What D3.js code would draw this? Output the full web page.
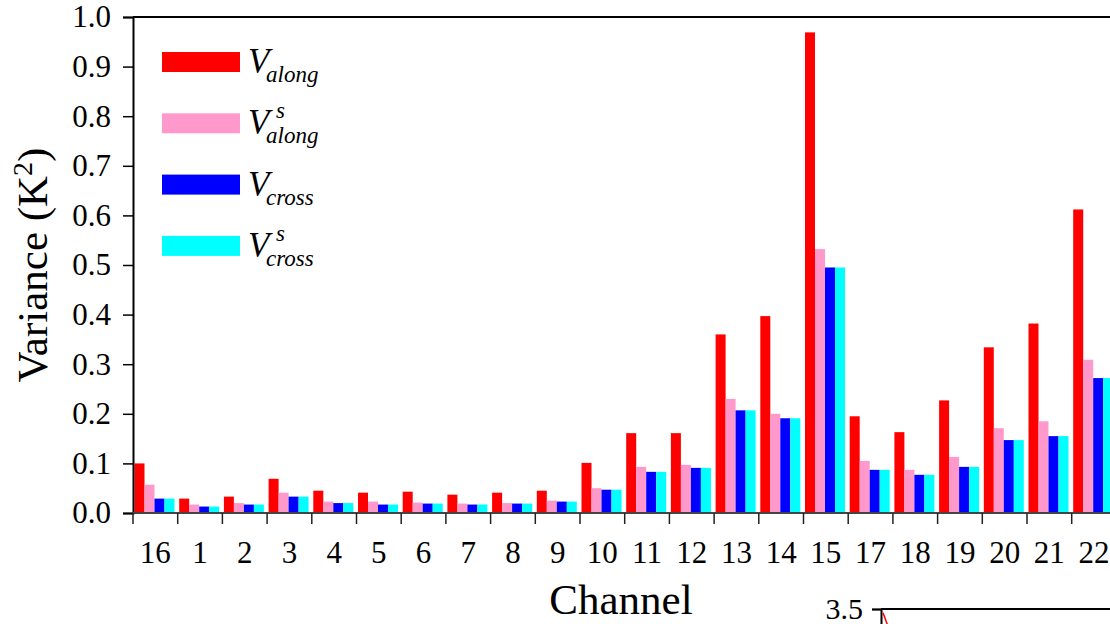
<!DOCTYPE html>
<html>
<head>
<meta charset="utf-8">
<script src="https://cdn.jsdelivr.net/npm/d3@7"></script>
<style>
  html, body { margin: 0; padding: 0; background: #fff; overflow: hidden; }
  svg { display: block; }
  svg text { font-family: "Liberation Serif", "Times New Roman", serif; }
</style>
</head>
<body>
<svg id="chart" width="1110" height="624"></svg>
<script>
// Channel order as plotted
const channels = ["16", "1", "2", "3", "4", "5", "6", "7", "8", "9", "10", "11", "12", "13", "14", "15", "17", "18", "19", "20", "21", "22"];

// Variance per channel (K^2)
const vAlong   = [0.100, 0.029, 0.033, 0.069, 0.045, 0.041, 0.043, 0.037, 0.041, 0.045, 0.101, 0.161, 0.161, 0.360, 0.397, 0.969, 0.195, 0.163, 0.227, 0.334, 0.382, 0.612];
const vAlongS  = [0.057, 0.017, 0.020, 0.041, 0.023, 0.023, 0.021, 0.019, 0.020, 0.025, 0.050, 0.093, 0.097, 0.230, 0.200, 0.532, 0.105, 0.087, 0.113, 0.171, 0.185, 0.309];
const vCross   = [0.029, 0.013, 0.017, 0.033, 0.020, 0.017, 0.019, 0.017, 0.019, 0.023, 0.047, 0.083, 0.091, 0.207, 0.191, 0.495, 0.087, 0.077, 0.093, 0.147, 0.155, 0.272];
const vCrossS  = [0.029, 0.013, 0.017, 0.033, 0.020, 0.017, 0.019, 0.017, 0.019, 0.023, 0.047, 0.083, 0.091, 0.207, 0.191, 0.495, 0.087, 0.077, 0.093, 0.147, 0.155, 0.272];

const seriesKeys   = ["along", "alongS", "cross", "crossS"];
const seriesColors = ["#ff0000", "#ff99cc", "#0000ff", "#00ffff"];
const seriesValues = [vAlong, vAlongS, vCross, vCrossS];

const yTicks = [0.0, 0.1, 0.2, 0.3, 0.4, 0.5, 0.6, 0.7, 0.8, 0.9, 1.0];

// Neighbouring panel peeking in at the lower right
const insetTicks = [3.5];
const insetCurve = [[0.0, 3.48], [0.1, 3.0]];

const svg = d3.select("#chart");
const serif = "Liberation Serif, Times New Roman, serif";

const plot = { left: 133, top: 17, bottom: 513, bandW: 44.7 };
const plotRight = plot.left + channels.length * plot.bandW;

const x = d3.scaleBand().domain(channels).range([plot.left, plotRight]).padding(0);
const xs = d3.scaleBand().domain(seriesKeys).range([1.5, 41.5]).padding(0);
const y = d3.scaleLinear().domain([0, 1]).range([plot.bottom, plot.top]);

// Bars
const rows = channels.map((c, i) => ({ c, vals: seriesKeys.map((k, j) => ({ k, v: seriesValues[j][i], color: seriesColors[j] })) }));

const groups = svg.append("g").selectAll("g")
  .data(rows).join("g")
  .attr("transform", d => `translate(${x(d.c)},0)`);

groups.selectAll("rect")
  .data(d => d.vals).join("rect")
  .attr("x", d => xs(d.k))
  .attr("width", xs.bandwidth())
  .attr("y", d => y(d.v))
  .attr("height", d => y(0) - y(d.v))
  .attr("fill", d => d.color);

// Y axis
const yAxis = svg.append("g")
  .attr("transform", `translate(${plot.left},0)`)
  .call(d3.axisLeft(y).tickValues(yTicks).tickFormat(d3.format(".1f")).tickSize(10).tickPadding(12))
  .attr("font-family", serif);
yAxis.select(".domain").attr("stroke", "#000").attr("stroke-width", 2);
yAxis.selectAll(".tick line").attr("stroke", "#000").attr("stroke-width", 1.5);
yAxis.selectAll(".tick text")
  .attr("font-size", 31).attr("fill", "#000");

// X axis: ticks sit on the category boundaries
const boundaries = channels.map(c => x(c));
const xAxisG = svg.append("g");
xAxisG.append("line")
  .attr("x1", plot.left).attr("x2", plotRight)
  .attr("y1", y(0)).attr("y2", y(0))
  .attr("stroke", "#444").attr("stroke-width", 2);
xAxisG.selectAll("line.tk").data(boundaries).join("line")
  .attr("class", "tk")
  .attr("x1", d => d).attr("x2", d => d)
  .attr("y1", y(0)).attr("y2", y(0) + 11)
  .attr("stroke", "#222").attr("stroke-width", 1.5);
xAxisG.selectAll("text").data(channels).join("text")
  .attr("x", d => x(d) + x.bandwidth() / 2)
  .attr("y", 563)
  .attr("text-anchor", "middle")
  .attr("font-size", 31)
  .text(d => d);

// Top frame line
svg.append("line")
  .attr("x1", plot.left).attr("x2", plotRight)
  .attr("y1", plot.top).attr("y2", plot.top)
  .attr("stroke", "#000").attr("stroke-width", 2);

// Axis titles
const yTitle = svg.append("text")
  .attr("transform", `translate(47,${(plot.top + plot.bottom) / 2}) rotate(-90)`)
  .attr("text-anchor", "middle")
  .attr("font-size", 43);
yTitle.append("tspan").text("Variance (K");
yTitle.append("tspan").attr("font-size", 28).attr("dy", -15).text("2");
yTitle.append("tspan").attr("dy", 15).text(")");

svg.append("text")
  .attr("x", 621).attr("y", 614)
  .attr("text-anchor", "middle")
  .attr("font-size", 43)
  .text("Channel");

// Legend
const legendItems = [
  { color: seriesColors[0], sub: "along", sup: "" },
  { color: seriesColors[1], sub: "along", sup: "s" },
  { color: seriesColors[2], sub: "cross", sup: "" },
  { color: seriesColors[3], sub: "cross", sup: "s" }
];
const legend = svg.append("g").selectAll("g")
  .data(legendItems).join("g")
  .attr("transform", (d, i) => `translate(162,${52 + i * 61.3})`);
legend.append("rect")
  .attr("width", 78).attr("height", 20)
  .attr("fill", d => d.color);
legend.append("text")
  .attr("x", 86).attr("y", 21)
  .attr("font-style", "italic").attr("font-size", 35)
  .text("V");
legend.append("text")
  .attr("x", 104).attr("y", 30)
  .attr("font-style", "italic").attr("font-size", 23)
  .text(d => d.sub);
legend.append("text")
  .attr("x", 114).attr("y", 5)
  .attr("font-style", "italic").attr("font-size", 23)
  .text(d => d.sup);

// Lower-right panel edge
const insetX = d3.scaleLinear().domain([0, 1]).range([881, 1200]);
const insetY = d3.scaleLinear().domain([3.0, 3.5]).range([700, 609]);
const inset = svg.append("g");
const insetAxis = inset.append("g")
  .attr("transform", `translate(${insetX(0)},0)`)
  .call(d3.axisLeft(insetY).tickValues(insetTicks).tickFormat(d3.format(".1f")).tickSize(9).tickPadding(9))
  .attr("font-family", serif);
insetAxis.select(".domain").attr("stroke", "#000").attr("stroke-width", 2);
insetAxis.selectAll(".tick line").attr("stroke", "#000").attr("stroke-width", 1.5);
insetAxis.selectAll(".tick text").attr("font-size", 30).attr("fill", "#000");
inset.append("line")
  .attr("x1", insetX(0)).attr("x2", 1110)
  .attr("y1", insetY(3.5)).attr("y2", insetY(3.5))
  .attr("stroke", "#000").attr("stroke-width", 2);
inset.append("path")
  .datum(insetCurve)
  .attr("fill", "none").attr("stroke", "#ff0000").attr("stroke-width", 1.5)
  .attr("d", d3.line().x(d => insetX(d[0]) + 2).y(d => insetY(d[1])));
</script>
</body>
</html>
